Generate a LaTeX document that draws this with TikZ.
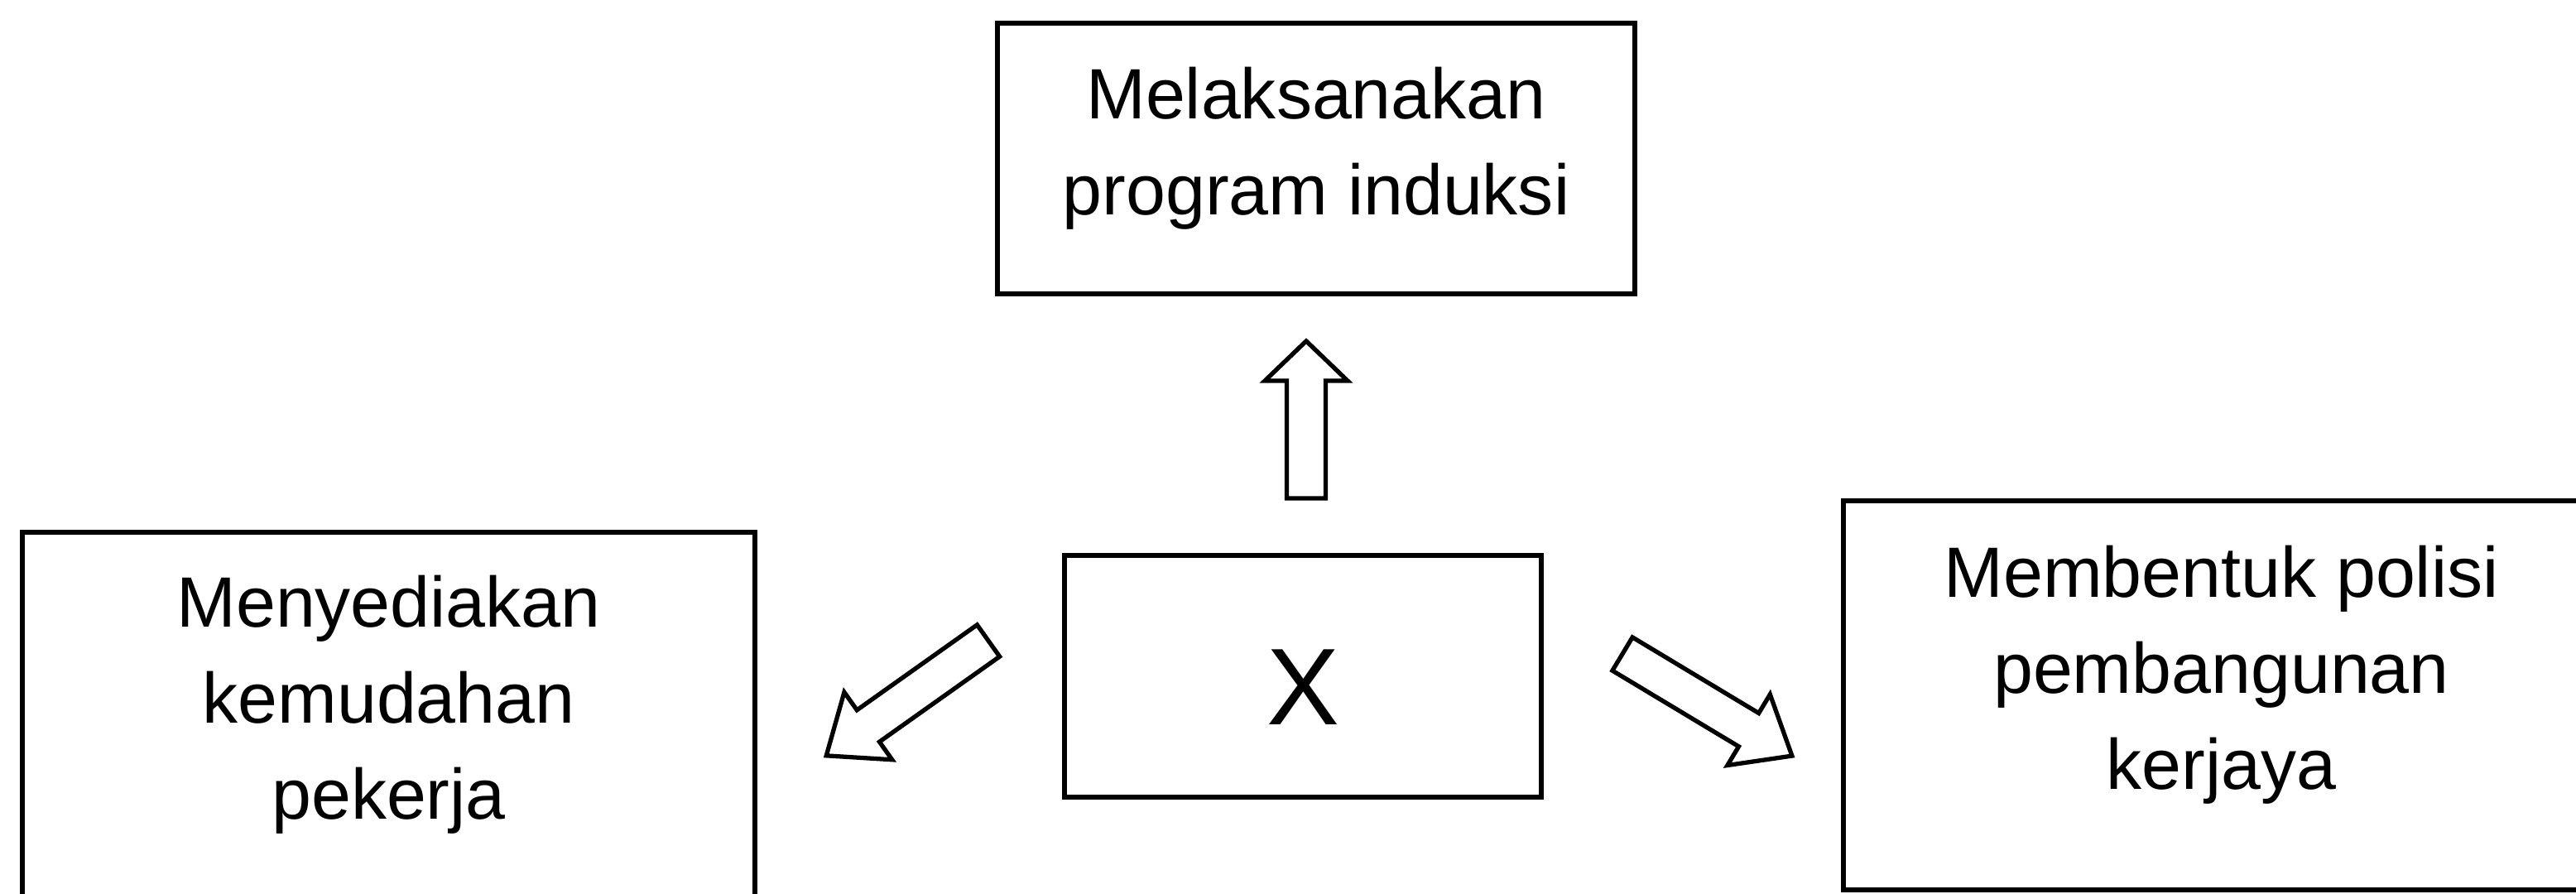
\documentclass[tikz,border=0pt]{standalone}
\usepackage{fontspec}
\setmainfont{Liberation Sans}

\tikzset{
  box/.style={draw, line width=1.5pt, align=center, inner sep=0pt,
    font=\fontsize{24.5}{33}\selectfont},
  hollow/.style={draw, line width=1.5pt, fill=white, line join=miter}
}

% block arrow: tail point, angle, length, head length
\newcommand{\blockarrow}[4]{%
  \begin{scope}[shift={#1}, rotate=#2]
    \draw[hollow] (0,-0.235) -- (#3-#4,-0.235) -- (#3-#4,-0.5) -- (#3,0)
      -- (#3-#4,0.5) -- (#3-#4,0.235) -- (0,0.235) -- cycle;
  \end{scope}}

\begin{document}
\begin{tikzpicture}
\useasboundingbox (0,0) rectangle (31.12,10.79);

% Boxes
\node[box, minimum width=7.70cm, minimum height=3.27cm, text depth=0.42cm]
  (induksi) at (15.90,8.875) {Melaksanakan\\program induksi};
\node[box, minimum width=8.85cm, minimum height=4.56cm, text depth=0.57cm]
  (kemudahan) at (4.695,2.08) {Menyediakan\\kemudahan\\pekerja};
\node[box, minimum width=5.76cm, minimum height=2.92cm,
  font=\fontsize{37.5}{45}\selectfont, text height=1.17cm, text depth=0cm]
  (x) at (15.74,2.62) {X};
\node[box, minimum width=9.13cm, minimum height=4.70cm, text depth=0.68cm]
  (polisi) at (26.835,2.39) {Membentuk polisi\\pembangunan\\kerjaya};

% Arrows
\blockarrow{(15.78,4.77)}{90}{1.90}{0.48}
\blockarrow{(11.94,3.05)}{215.35}{2.40}{0.62}
\blockarrow{(19.60,2.89)}{-31}{2.39}{0.61}

\end{tikzpicture}
\end{document}
